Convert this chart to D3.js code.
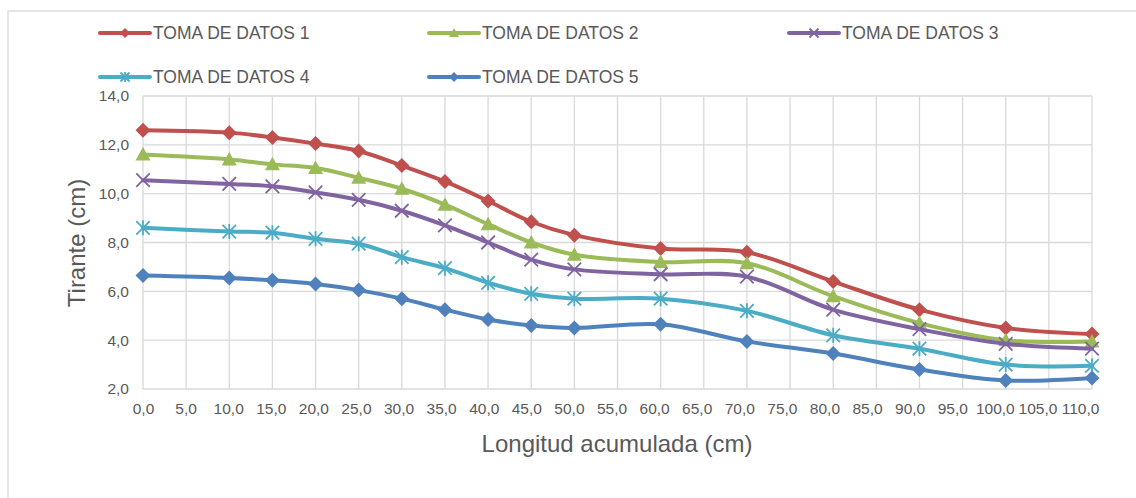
<!DOCTYPE html>
<html lang="es">

<head>
  <meta charset="UTF-8">
  <title>Tirante vs longitud acumulada</title>
  <style>
    body { margin: 0; background: #fff; }
    text { font-family: "Liberation Sans", Arial, sans-serif; fill: #595959; }
  </style>
</head>

<body>
  <svg id="svg" width="1136" height="498"></svg>

  <script src="https://d3js.org/d3.v7.min.js"></script>
  <script>
    // distancias (cm) donde se midio
    const longitud = [0, 10, 15, 20, 25, 30, 35, 40, 45, 50, 60, 70, 80, 90, 100, 110]

    const toma1 = [12.6, 12.5, 12.3, 12.05, 11.75, 11.15, 10.5, 9.7, 8.85, 8.3, 7.75, 7.6, 6.4, 5.25, 4.5, 4.25]
    const toma2 = [11.6, 11.4, 11.2, 11.05, 10.65, 10.2, 9.55, 8.75, 8.0, 7.5, 7.2, 7.15, 5.8, 4.7, 4.0, 3.95]
    const toma3 = [10.55, 10.4, 10.3, 10.05, 9.75, 9.3, 8.7, 8.0, 7.3, 6.9, 6.7, 6.6, 5.25, 4.45, 3.85, 3.65]
    const toma4 = [8.6, 8.45, 8.4, 8.15, 7.95, 7.4, 6.95, 6.35, 5.9, 5.7, 5.7, 5.2, 4.2, 3.65, 3.0, 2.95]
    const toma5 = [6.65, 6.55, 6.45, 6.3, 6.05, 5.7, 5.25, 4.85, 4.6, 4.5, 4.65, 3.95, 3.45, 2.8, 2.35, 2.45]

    const nombres = ['TOMA DE DATOS 1', 'TOMA DE DATOS 2', 'TOMA DE DATOS 3', 'TOMA DE DATOS 4', 'TOMA DE DATOS 5']
    const colores = ['#C0504D', '#9BBB59', '#8064A2', '#4BACC6', '#4F81BD']
    const marcas = ['diamond', 'triangle', 'x', 'star', 'diamond']

    const xTicks = [0, 5, 10, 15, 20, 25, 30, 35, 40, 45, 50, 55, 60, 65, 70, 75, 80, 85, 90, 95, 100, 105, 110]
    const yTicks = [2, 4, 6, 8, 10, 12, 14]

    const series = [toma1, toma2, toma3, toma4, toma5].map((vals, i) => ({
      name: nombres[i],
      color: colores[i],
      marker: marcas[i],
      values: vals.map((v, j) => ({ x: longitud[j], y: v }))
    }))

    const svg = d3.select('#svg')
    const fmt = d3.formatLocale({ decimal: ',', thousands: '.', grouping: [3], currency: ['', ''] }).format('.1f')

    const xScale = d3.scaleLinear().domain([0, 110]).range([143, 1092])
    const yScale = d3.scaleLinear().domain([2, 14]).range([389, 96])

    // marco del grafico
    svg.append('rect')
      .attr('x', 8).attr('y', 11)
      .attr('width', 1140).attr('height', 500)
      .attr('fill', '#fff')
      .attr('stroke', '#d9d9d9')
      .attr('stroke-width', 1.3)

    // cuadricula
    const grid = svg.append('g')
    grid.selectAll('.gx')
      .data(xTicks)
      .enter()
      .append('line')
      .attr('x1', d => xScale(d)).attr('x2', d => xScale(d))
      .attr('y1', yScale(14)).attr('y2', yScale(2))
      .attr('stroke', '#d9d9d9').attr('stroke-width', 1.3)
    grid.selectAll('.gy')
      .data(yTicks)
      .enter()
      .append('line')
      .attr('x1', xScale(0)).attr('x2', xScale(110))
      .attr('y1', d => yScale(d)).attr('y2', d => yScale(d))
      .attr('stroke', '#d9d9d9').attr('stroke-width', 1.3)

    // ejes
    const xAxis = svg.append('g')
      .attr('transform', `translate(0,${yScale(2)})`)
      .call(d3.axisBottom(xScale).tickValues(xTicks).tickFormat(fmt).tickSize(0).tickPadding(14))
    const yAxis = svg.append('g')
      .attr('transform', `translate(${xScale(0)},0)`)
      .call(d3.axisLeft(yScale).tickValues(yTicks).tickFormat(fmt).tickSize(0).tickPadding(14))
    ;[xAxis, yAxis].forEach(a => {
      a.select('.domain').remove()
      a.selectAll('text').style('font-size', '15.5px').attr('fill', '#595959')
    })
    // en el original las etiquetas se juntan un poco hacia la derecha
    xAxis.selectAll('text').attr('dx', d => -d / 110 * 12)

    // titulos de ejes
    svg.append('text')
      .attr('x', 617).attr('y', 452)
      .attr('text-anchor', 'middle')
      .style('font-size', '24px')
      .text('Longitud acumulada (cm)')
    svg.append('text')
      .attr('transform', 'translate(85,243) rotate(-90)')
      .attr('text-anchor', 'middle')
      .style('font-size', '24px')
      .text('Tirante (cm)')

    function drawMarker(g, type, color, size) {
      const s = size / 2
      if (type === 'diamond') {
        g.append('path').attr('d', `M0,${-s}L${s},0L0,${s}L${-s},0Z`).attr('fill', color)
      } else if (type === 'triangle') {
        g.append('path').attr('d', `M0,${-s}L${s},${s * 0.8}L${-s},${s * 0.8}Z`).attr('fill', color)
      } else if (type === 'x') {
        const k = s * 0.9
        g.append('path').attr('d', `M${-k},${-k}L${k},${k}M${-k},${k}L${k},${-k}`)
          .attr('stroke', color).attr('stroke-width', 1.8).attr('fill', 'none')
      } else if (type === 'star') {
        const k = s * 0.9
        g.append('path').attr('d', `M${-k},${-k}L${k},${k}M${-k},${k}L${k},${-k}M0,${-s}L0,${s}`)
          .attr('stroke', color).attr('stroke-width', 1.8).attr('fill', 'none')
      }
    }

    const line = d3.line()
      .x(d => xScale(d.x))
      .y(d => yScale(d.y))
      .curve(d3.curveCatmullRom.alpha(0.5))

    series.forEach(s => {
      const g = svg.append('g')
      g.append('path')
        .attr('d', line(s.values))
        .attr('fill', 'none')
        .attr('stroke', s.color)
        .attr('stroke-width', 4)
        .attr('stroke-linecap', 'round')
      s.values.forEach(p => {
        const m = g.append('g').attr('transform', `translate(${xScale(p.x)},${yScale(p.y)})`)
        drawMarker(m, s.marker, s.color, 15)
      })
    })

    // leyenda
    const legendPos = [[100, 33], [429, 33], [789, 33], [100, 77], [429, 77]]
    series.forEach((s, i) => {
      const [lx, ly] = legendPos[i]
      const g = svg.append('g').attr('transform', `translate(${lx},${ly})`)
      g.append('line')
        .attr('x1', 0).attr('x2', 50)
        .attr('stroke', s.color).attr('stroke-width', 4)
        .attr('stroke-linecap', 'round')
      const m = g.append('g').attr('transform', 'translate(25,0)')
      drawMarker(m, s.marker, s.color, 10)
      g.append('text')
        .attr('x', 53).attr('y', 6)
        .style('font-size', '17.5px')
        .text(s.name)
    })
  </script>
</body>

</html>
